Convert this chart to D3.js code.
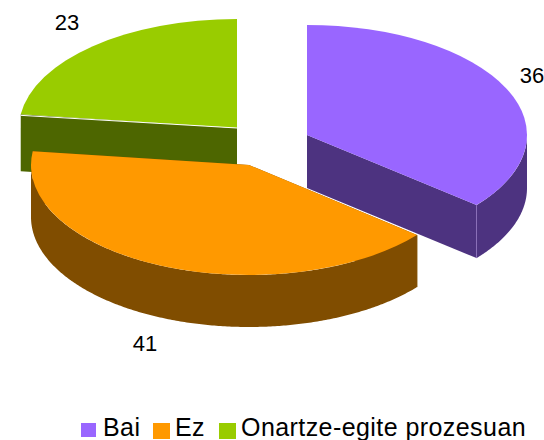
<!DOCTYPE html>
<html lang="en">
<head>
<meta charset="UTF-8">
<title>Pie</title>
<script src="https://d3js.org/d3.v7.min.js"></script>
<style>
  html, body { margin: 0; padding: 0; background: #fff; }
  svg { display: block; }
  text { font-family: "Liberation Sans", Arial, sans-serif; fill: #000; }
</style>
</head>
<body>
<div id="chart"></div>
<script>
// data
const categories = ["Bai", "Ez", "Onartze-egite prozesuan"];
const values = [36, 41, 23];
const topColors = ["#9966FF", "#FF9900", "#99CC00"];
const sideColors = ["#4D3380", "#804D00", "#4D6600"];

// layout: centre of each exploded slice, in the same order as categories
const width = 544, height = 440;
const centres = [
  { x: 307, y: 135, rx: 220, ry: 110, depth: 53 },
  { x: 249, y: 165, rx: 218, ry: 110, depth: 52 },
  { x: 237, y: 128, rx: 218, ry: 109, depth: 57 }
];
const labelPos = [[532, 83], [145, 351], [67, 30]];
const drawOrder = [0, 2, 1];

const svg = d3.select("#chart").append("svg")
  .attr("width", width)
  .attr("height", height);

const slices = d3.pie().sort(null).value(d => d)(values);

const pointAt = (c, a, dy) => [c.x + c.rx * Math.sin(a), c.y - c.ry * Math.cos(a) + (dy || 0)];

drawOrder.forEach(i => {
  const s = slices[i], c = centres[i];
  const g = svg.append("g");

  // cut faces, going down from the two radial edges
  [s.startAngle, s.endAngle].forEach(a => {
    const p = pointAt(c, a);
    g.append("path")
      .attr("d", d3.line()([[c.x, c.y], p, [p[0], p[1] + c.depth], [c.x, c.y + c.depth]]))
      .attr("fill", sideColors[i]);
  });

  // outer rim, only the part that faces the viewer
  const from = Math.max(s.startAngle, Math.PI / 2);
  const to = Math.min(s.endAngle, 3 * Math.PI / 2);
  if (from < to) {
    const steps = d3.range(from, to, 0.01).concat([to]);
    const rim = d3.area()
      .x(a => pointAt(c, a)[0])
      .y0(a => pointAt(c, a)[1])
      .y1(a => pointAt(c, a, c.depth)[1]);
    g.append("path").attr("d", rim(steps)).attr("fill", sideColors[i]);
  }

  // top face
  g.append("path")
    .attr("transform", `translate(${c.x},${c.y}) scale(1,${c.ry / c.rx})`)
    .attr("d", d3.arc().innerRadius(0).outerRadius(c.rx)(s))
    .attr("fill", topColors[i]);
});

// seam lines seen in the original
const bai = centres[0], baiEnd = pointAt(bai, slices[0].endAngle);
svg.append("line")
  .attr("x1", baiEnd[0]).attr("x2", baiEnd[0])
  .attr("y1", baiEnd[1]).attr("y2", baiEnd[1] + bai.depth)
  .attr("stroke", "#8a70b8").attr("stroke-width", 1);
const ona = centres[2], onaStart = pointAt(ona, slices[2].startAngle);
svg.append("line")
  .attr("x1", ona.x).attr("y1", ona.y)
  .attr("x2", onaStart[0]).attr("y2", onaStart[1] + 1)
  .attr("stroke", "#fff").attr("stroke-width", 1);
const ez = centres[1], ezStart = pointAt(ez, slices[1].startAngle);
svg.append("line")
  .attr("x1", ezStart[0] + 0.5).attr("x2", ezStart[0] + 0.5)
  .attr("y1", ezStart[1]).attr("y2", ezStart[1] + ez.depth)
  .attr("stroke", "#c9b48f").attr("stroke-width", 1);

// value labels
svg.selectAll("text.value")
  .data(values)
  .enter().append("text")
  .attr("class", "value")
  .attr("x", (d, i) => labelPos[i][0])
  .attr("y", (d, i) => labelPos[i][1])
  .attr("text-anchor", "middle")
  .attr("font-size", 22)
  .text(d => d);

// legend
const legendX = [81, 153, 219];
const legendSize = [15, 17, 17];
const legendTextX = [103, 175, 241];
const legend = svg.selectAll("g.legend")
  .data(categories)
  .enter().append("g")
  .attr("class", "legend");
legend.append("rect")
  .attr("x", (d, i) => legendX[i])
  .attr("y", 423)
  .attr("width", (d, i) => legendSize[i])
  .attr("height", (d, i) => legendSize[i] - 1)
  .attr("fill", (d, i) => topColors[i]);
legend.append("text")
  .attr("x", (d, i) => legendTextX[i])
  .attr("y", 436)
  .attr("font-size", 25)
  .attr("letter-spacing", 0.43)
  .text(d => d);
</script>
</body>
</html>
